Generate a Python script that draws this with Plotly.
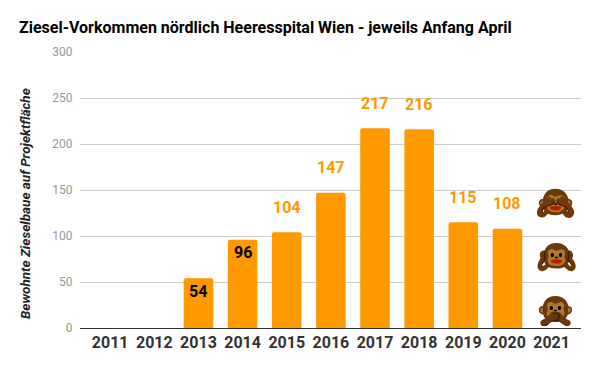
import plotly.graph_objects as go

TITLE = "Ziesel-Vorkommen nördlich Heeresspital Wien - jeweils Anfang April"
Y_TITLE = "Bewohnte Zieselbaue auf Projektfläche"
years = ["2011", "2012", "2013", "2014", "2015", "2016", "2017", "2018", "2019", "2020", "2021"]
values = [None, None, 54, 96, 104, 147, 217, 216, 115, 108, None]
y_ticks = [0, 50, 100, 150, 200, 250, 300]
monkeys = [("🙈", 136), ("🙉", 78), ("🙊", 20)]

ORANGE = "#ff9900"
FONT = "Roboto"
OFF = 8  # the page's default body margin
W, H = 600 - OFF, 371 - OFF
L, R, T, B = 80 - OFF, 581 - OFF, 52 - OFF, 328 - OFF

fig = go.Figure(go.Bar(x=list(range(len(years))), y=values, marker_color=ORANGE,
                       marker_line_width=0, width=0.67, hoverinfo="skip"))
fig.update_traces(marker_cornerradius=2)

for i, v in enumerate(values):
    if v is None:
        continue
    inside = v < 100
    fig.add_annotation(x=i, y=v, text=f"<b>{v}</b>", showarrow=False, yanchor="middle",
                       yshift=-13 if inside else 25,
                       font=dict(family=FONT, size=16, color="#000000" if inside else ORANGE))

for emoji, y in monkeys:
    fig.add_annotation(x=10, y=y, text=emoji, showarrow=False, yanchor="middle", xshift=4,
                       font=dict(family="Noto Color Emoji, Noto Sans", size=33))

fig.add_annotation(xref="paper", yref="paper", x=(25 - L - OFF) / (R - L), y=(B + OFF - 204) / (B - T),
                   text=f"<b><i>{Y_TITLE}</i></b>", textangle=-90, showarrow=False,
                   xanchor="center", yanchor="middle",
                   font=dict(family=FONT, size=13.5, color="#222222"))

fig.update_layout(
    width=W, height=H, autosize=False,
    margin=dict(l=L, r=W - R, t=T, b=H - B),
    plot_bgcolor="#ffffff", paper_bgcolor="#ffffff", showlegend=False, bargap=0.33,
    title=dict(text=f"<b>{TITLE}</b>", x=(19 - OFF) / W, xanchor="left", y=1 - (27 - OFF) / H, yanchor="middle",
               font=dict(family=FONT, size=16, color="#000000")),
    xaxis=dict(range=[-0.684, 10.666], tickmode="array", tickvals=list(range(len(years))),
               ticktext=[f"<b>{y}</b>" for y in years], ticklen=0, showgrid=False, showline=True,
               linecolor="#333333", linewidth=1, zeroline=False,
               tickfont=dict(family=FONT, size=16, color="#333333")),
    yaxis=dict(range=[0, 300], tickvals=y_ticks, ticks="outside", ticklen=4, tickcolor="rgba(0,0,0,0)",
               gridcolor="#cccccc", gridwidth=1, zeroline=False,
               tickfont=dict(family=FONT, size=12, color="#999999")),
)
darken = """
document.querySelectorAll('.annotation').forEach(function (a) {
  if (/[\\u{1F648}-\\u{1F64A}]/u.test(a.textContent)) {
    a.style.filter = 'brightness(0.6) contrast(1.5) saturate(1.2)';
  }
});
"""
fig.write_html("out.html", post_script=darken)
